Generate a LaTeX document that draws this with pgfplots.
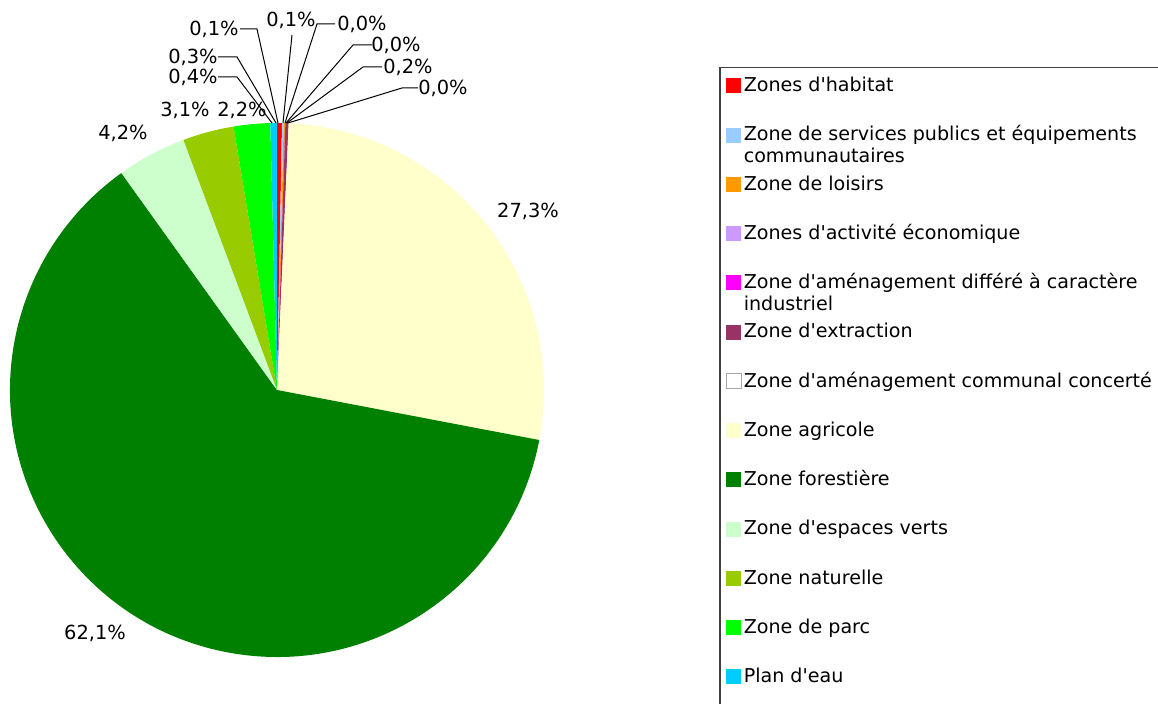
\documentclass[border=0pt]{standalone}
\usepackage{fontspec}
\setmainfont{DejaVu Sans}[Ligatures=TeXOff]
\usepackage{pgfplots}
\usepackage{pgfplotstable}
\pgfplotsset{compat=1.18}

\definecolor{pc0}{HTML}{FF0000}
\definecolor{pc1}{HTML}{99CCFF}
\definecolor{pc2}{HTML}{FF9900}
\definecolor{pc3}{HTML}{CC99FF}
\definecolor{pc4}{HTML}{FF00FF}
\definecolor{pc5}{HTML}{993366}
\definecolor{pc6}{HTML}{FFFFFF}
\definecolor{pc7}{HTML}{FFFFCC}
\definecolor{pc8}{HTML}{008000}
\definecolor{pc9}{HTML}{CCFFCC}
\definecolor{pc10}{HTML}{99CC00}
\definecolor{pc11}{HTML}{00FF00}
\definecolor{pc12}{HTML}{00CCFF}

% share of each zone, in %, clockwise from 12 o'clock
\pgfplotstableread{
id value
0  0.3
1  0.1
2  0.1
3  0.0
4  0.0
5  0.2
6  0.0
7  27.3
8  62.1
9  4.2
10 3.1
11 2.2
12 0.4
}\piedata

% cumulative start/end of every slice
\xdef\cumsum{0}
\pgfplotstableforeachcolumnelement{value}\of\piedata\as\v{%
  \expandafter\xdef\csname ps\pgfplotstablerow\endcsname{\cumsum}%
  \pgfmathsetmacro\tmp{\cumsum+\v}%
  \xdef\cumsum{\tmp}%
  \expandafter\xdef\csname pe\pgfplotstablerow\endcsname{\cumsum}%
}

\begin{document}
\begin{tikzpicture}[font=\fontsize{9.7}{11}\selectfont]
\useasboundingbox (0,0) rectangle (579pt,352pt);
\clip (0,0) rectangle (579pt,352pt);
\begin{axis}[
    at={(0,0)}, anchor=south west,
    x=1pt, y=1pt,
    xmin=0, xmax=579, ymin=0, ymax=352,
    hide axis, clip=false,
    legend cell align=left,
    legend image code/.code={\path[#1] (0pt,1.5pt) rectangle (7.5pt,9pt); \path (8.6pt,1.5pt);},
    legend style={
        at={(axis cs:359.5,318.5)}, anchor=north west,
        draw=black!75, line width=0.75pt,
        inner xsep=3pt, inner ysep=2pt,
        row sep=0pt,
        font=\fontsize{9.55}{11}\selectfont,
        nodes={inner sep=0pt, text height=10pt, text depth=14.625pt},
        /tikz/every even column/.append style={column sep=0pt},
    },
]
\pgfplotsinvokeforeach{0,...,12}{
  \fill[pc#1] (axis cs:138.5,157) -- ++({90-3.6*\csname ps#1\endcsname}:133.5pt)
    arc[start angle={90-3.6*\csname ps#1\endcsname},
        end angle={90-3.6*\csname pe#1\endcsname}, radius=133.5pt] -- cycle;
}

\addlegendimage{fill=pc0, draw=none}
\addlegendentry{Zones d'habitat}
\addlegendimage{fill=pc1, draw=none}
\addlegendentry{\parbox[t]{212pt}{Zone de services publics et équipements\\communautaires}}
\addlegendimage{fill=pc2, draw=none}
\addlegendentry{Zone de loisirs}
\addlegendimage{fill=pc3, draw=none}
\addlegendentry{Zones d'activité économique}
\addlegendimage{fill=pc4, draw=none}
\addlegendentry{\parbox[t]{212pt}{Zone d'aménagement différé à caractère\\industriel}}
\addlegendimage{fill=pc5, draw=none}
\addlegendentry{Zone d'extraction}
\addlegendimage{fill=pc6, draw=gray!70, line width=0.4pt}
\addlegendentry{Zone d'aménagement communal concerté}
\addlegendimage{fill=pc7, draw=none}
\addlegendentry{Zone agricole}
\addlegendimage{fill=pc8, draw=none}
\addlegendentry{Zone forestière}
\addlegendimage{fill=pc9, draw=none}
\addlegendentry{Zone d'espaces verts}
\addlegendimage{fill=pc10, draw=none}
\addlegendentry{Zone naturelle}
\addlegendimage{fill=pc11, draw=none}
\addlegendentry{Zone de parc}
\addlegendimage{fill=pc12, draw=none}
\addlegendentry{Plan d'eau}

% data labels
\node at (axis cs:264,246.5) {27,3\%};
\node at (axis cs:47.5,35.5) {62,1\%};
\node at (axis cs:61.5,285.5) {4,2\%};
\node at (axis cs:92.5,297) {3,1\%};
\node at (axis cs:121,297) {2,2\%};
\node at (axis cs:96.5,313.5) {0,4\%};
\node at (axis cs:96.5,323.5) {0,3\%};
\node at (axis cs:107,337.5) {0,1\%};
\node at (axis cs:145.5,342) {0,1\%};
\node at (axis cs:181,340) {0,0\%};
\node at (axis cs:198,329.5) {0,0\%};
\node at (axis cs:204,318.5) {0,2\%};
\node at (axis cs:221.5,308) {0,0\%};

% leader lines
\draw[line width=0.5pt] (axis cs:120,337.5) -- (axis cs:128.5,337.5) -- (axis cs:139,290.5);
\draw[line width=0.5pt] (axis cs:109,323.5) -- (axis cs:118.5,323.5) -- (axis cs:138,290.5);
\draw[line width=0.5pt] (axis cs:109,313.5) -- (axis cs:118.5,313.5) -- (axis cs:136,290.5);
\draw[line width=0.5pt] (axis cs:146,334.5) -- (axis cs:141.5,290.5);
\draw[line width=0.5pt] (axis cs:167.5,340) -- (axis cs:158.5,340) -- (axis cs:142.5,290.5);
\draw[line width=0.5pt] (axis cs:186,329.5) -- (axis cs:176.5,329.5) -- (axis cs:143,290.5);
\draw[line width=0.5pt] (axis cs:191,318.5) -- (axis cs:181.5,318.5) -- (axis cs:143.5,290.5);
\draw[line width=0.5pt] (axis cs:209,308) -- (axis cs:201,308) -- (axis cs:144,290.5);
\end{axis}
\end{tikzpicture}
\end{document}
